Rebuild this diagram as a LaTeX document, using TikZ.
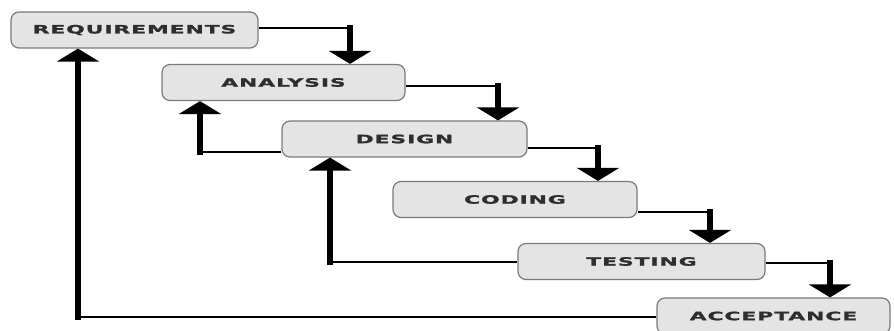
\documentclass[tikz,border=0pt]{standalone}
\usepackage{fontspec}
\usetikzlibrary{arrows.meta}
\newfontfamily\stagefont[FakeStretch=1.9,LetterSpace=8,FakeBold=1.5]{DejaVu Sans}
\definecolor{boxfill}{HTML}{E4E4E4}
\definecolor{boxline}{HTML}{7A7A7A}
\definecolor{labelgray}{HTML}{2E2E2E}
\tikzset{stage/.style={draw=boxline,fill=boxfill,line width=1.2pt,rounded corners=8pt,minimum height=36pt,inner sep=0pt,text=labelgray,font={\stagefont\bfseries\fontsize{11.5pt}{13pt}\selectfont}}}
\tikzset{link/.style={draw,line width=2.2pt}}
\tikzset{flow/.style={draw,line width=5.5pt,line cap=rect,-{Triangle[width=42pt,length=13pt]}}}

\begin{document}
\begin{tikzpicture}[x=1pt,y=-1pt]
        \useasboundingbox (0,0) rectangle (894,331);
        \foreach \i/\name/\px/\py/\w in {0/REQUIREMENTS/134.5/30/247, 1/ANALYSIS/283.5/82.5/243, 2/DESIGN/404.5/139/245, 3/CODING/515/199.5/244, 4/TESTING/641.5/261.5/247, 5/ACCEPTANCE/773.5/316/233}{
            \node[stage,minimum width=\w pt] (b\i) at (\px,\py) {\name};
        }
        \foreach \i/\j/\py/\px in {0/1/28/350, 1/2/86/498, 2/3/148/598, 3/4/212/710, 4/5/263/830}{
            \coordinate (d\i) at (\px,\py);
            \path[link] (b\i.east |- d\i) -- (d\i);
            \path[flow] (d\i) -- (d\i |- b\j.north);
        }
        \foreach \i/\j/\py/\px in {2/1/152/200, 4/2/262/330, 5/0/317/78}{
            \coordinate (u\i) at (\px,\py);
            \path[link] (b\i.west |- u\i) -- (u\i);
            \path[flow] (u\i) -- (u\i |- b\j.south);
        }
    \end{tikzpicture}
\end{document}
